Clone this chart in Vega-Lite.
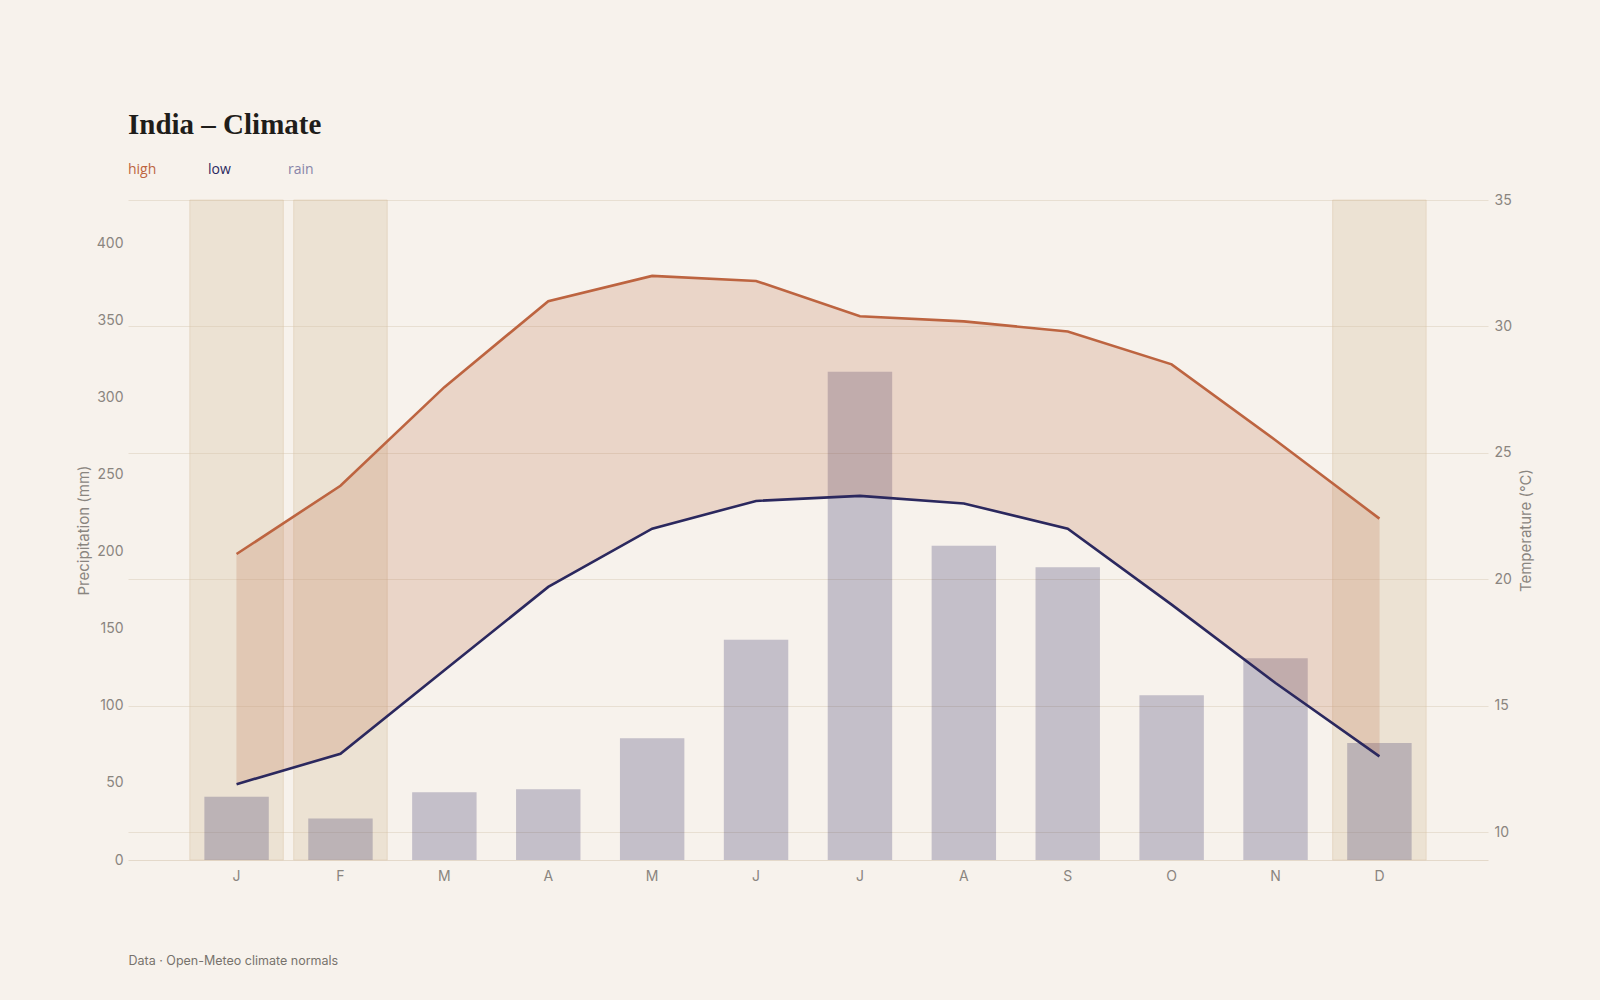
{
  "$schema": "https://vega.github.io/schema/vega-lite/v6.json",
  "width": 1360,
  "height": 660,
  "autosize": {"type": "none"},
  "padding": {"left": 128, "top": 200, "right": 112, "bottom": 140},
  "background": "#f7f2ec",
  "config": {
    "view": {"stroke": null},
    "font": "Inter",
    "axis": {"labelFont": "Inter", "titleFont": "Inter", "labelColor": "#8a857f", "titleColor": "#8a857f", "labelFontSize": 14, "titleFontSize": 15, "titleFontWeight": "normal", "domain": false, "ticks": false, "grid": false}
  },
  "title": {
    "text": "India – Climate",
    "anchor": "start",
    "frame": "group",
    "font": "Liberation Serif",
    "fontSize": 29,
    "fontWeight": "bold",
    "color": "#1f1d1a",
    "baseline": "alphabetic",
    "offset": 0
  },
  "data": {
    "values": [
      {"month": "Jan", "high": 21.0, "low": 11.9, "rain": 41, "winter": true},
      {"month": "Feb", "high": 23.7, "low": 13.1, "rain": 27, "winter": true},
      {"month": "Mar", "high": 27.6, "low": 16.4, "rain": 44, "winter": false},
      {"month": "Apr", "high": 31.0, "low": 19.7, "rain": 46, "winter": false},
      {"month": "May", "high": 32.0, "low": 22.0, "rain": 79, "winter": false},
      {"month": "Jun", "high": 31.8, "low": 23.1, "rain": 143, "winter": false},
      {"month": "Jul", "high": 30.4, "low": 23.3, "rain": 317, "winter": false},
      {"month": "Aug", "high": 30.2, "low": 23.0, "rain": 204, "winter": false},
      {"month": "Sep", "high": 29.8, "low": 22.0, "rain": 190, "winter": false},
      {"month": "Oct", "high": 28.5, "low": 19.0, "rain": 107, "winter": false},
      {"month": "Nov", "high": 25.5, "low": 15.9, "rain": 131, "winter": false},
      {"month": "Dec", "high": 22.4, "low": 13.0, "rain": 76, "winter": true}
    ]
  },
  "encoding": {
    "x": {
      "field": "month",
      "type": "nominal",
      "sort": null,
      "scale": {"domain": ["Jan", "Feb", "Mar", "Apr", "May", "Jun", "Jul", "Aug", "Sep", "Oct", "Nov", "Dec"], "paddingInner": 0, "paddingOuter": 0.545},
      "axis": {
        "orient": "bottom",
        "domain": true,
        "domainColor": "#e4d9ca",
        "domainWidth": 1,
        "labelAngle": 0,
        "labelPadding": 9,
        "labelExpr": "substring(datum.label, 0, 1)",
        "title": "Data · Open-Meteo climate normals",
        "titleAnchor": "start",
        "titleAlign": "left",
        "titleBaseline": "alphabetic",
        "titleX": 0,
        "titleY": 104,
        "titleFontSize": 12.5,
        "titleColor": "#77726c"
      }
    }
  },
  "layer": [
    {
      "transform": [{"filter": "datum.winter"}],
      "mark": {"type": "bar", "width": {"band": 0.9}, "fill": "#d9c4a5", "fillOpacity": 0.36, "stroke": "#d9c4a5", "strokeOpacity": 0.45, "strokeWidth": 1}
    },
    {
      "mark": {"type": "bar", "width": {"band": 0.62}, "opacity": 0.25},
      "encoding": {
        "y": {
          "field": "rain",
          "type": "quantitative",
          "scale": {"domain": [0, 428.5], "nice": false},
          "axis": {"orient": "left", "values": [0, 50, 100, 150, 200, 250, 300, 350, 400], "labelPadding": 5, "title": "Precipitation (mm)", "titlePadding": 5}
        },
        "color": {
          "datum": "rain",
          "type": "nominal",
          "scale": {"domain": ["high", "low", "rain"], "range": ["#bd6440", "#2b285e", "#2b285e"]},
          "legend": {
            "title": null,
            "orient": "none",
            "legendX": -14,
            "legendY": -37,
            "direction": "horizontal",
            "symbolSize": 0,
            "symbolOpacity": 0,
            "symbolStrokeWidth": 0,
            "labelOffset": 0,
            "labelFont": "Open Sans",
            "labelFontSize": 14,
            "gridAlign": "all",
            "columnPadding": 37,
            "encode": {"labels": {"update": {"fill": {"signal": "datum.value === 'rain' ? '#8784a8' : datum.value === 'high' ? '#bd6440' : '#2b285e'"}}}}
          }
        }
      }
    },
    {
      "layer": [
        {
          "mark": {"type": "area", "color": "#b9643f", "opacity": 0.2, "stroke": "#b9643f", "strokeOpacity": 0.25, "strokeWidth": 1},
          "encoding": {
            "y": {
              "field": "high",
              "type": "quantitative",
              "scale": {"domain": [8.9, 35], "nice": false, "zero": false},
              "axis": {"orient": "right", "grid": true, "gridColor": "#e8dfd2", "gridWidth": 1, "values": [10, 15, 20, 25, 30, 35], "labelPadding": 6, "title": "Temperature (°C)", "titleAngle": -90, "titlePadding": 22}
            },
            "y2": {"field": "low"}
          }
        },
        {
          "transform": [{"fold": ["high", "low"], "as": ["series", "temp"]}],
          "mark": {"type": "line", "strokeWidth": 2.6},
          "encoding": {
            "y": {"field": "temp", "type": "quantitative"},
            "color": {"field": "series", "type": "nominal", "legend": null}
          }
        }
      ]
    }
  ],
  "resolve": {"scale": {"y": "independent"}, "axis": {"y": "independent"}}
}
